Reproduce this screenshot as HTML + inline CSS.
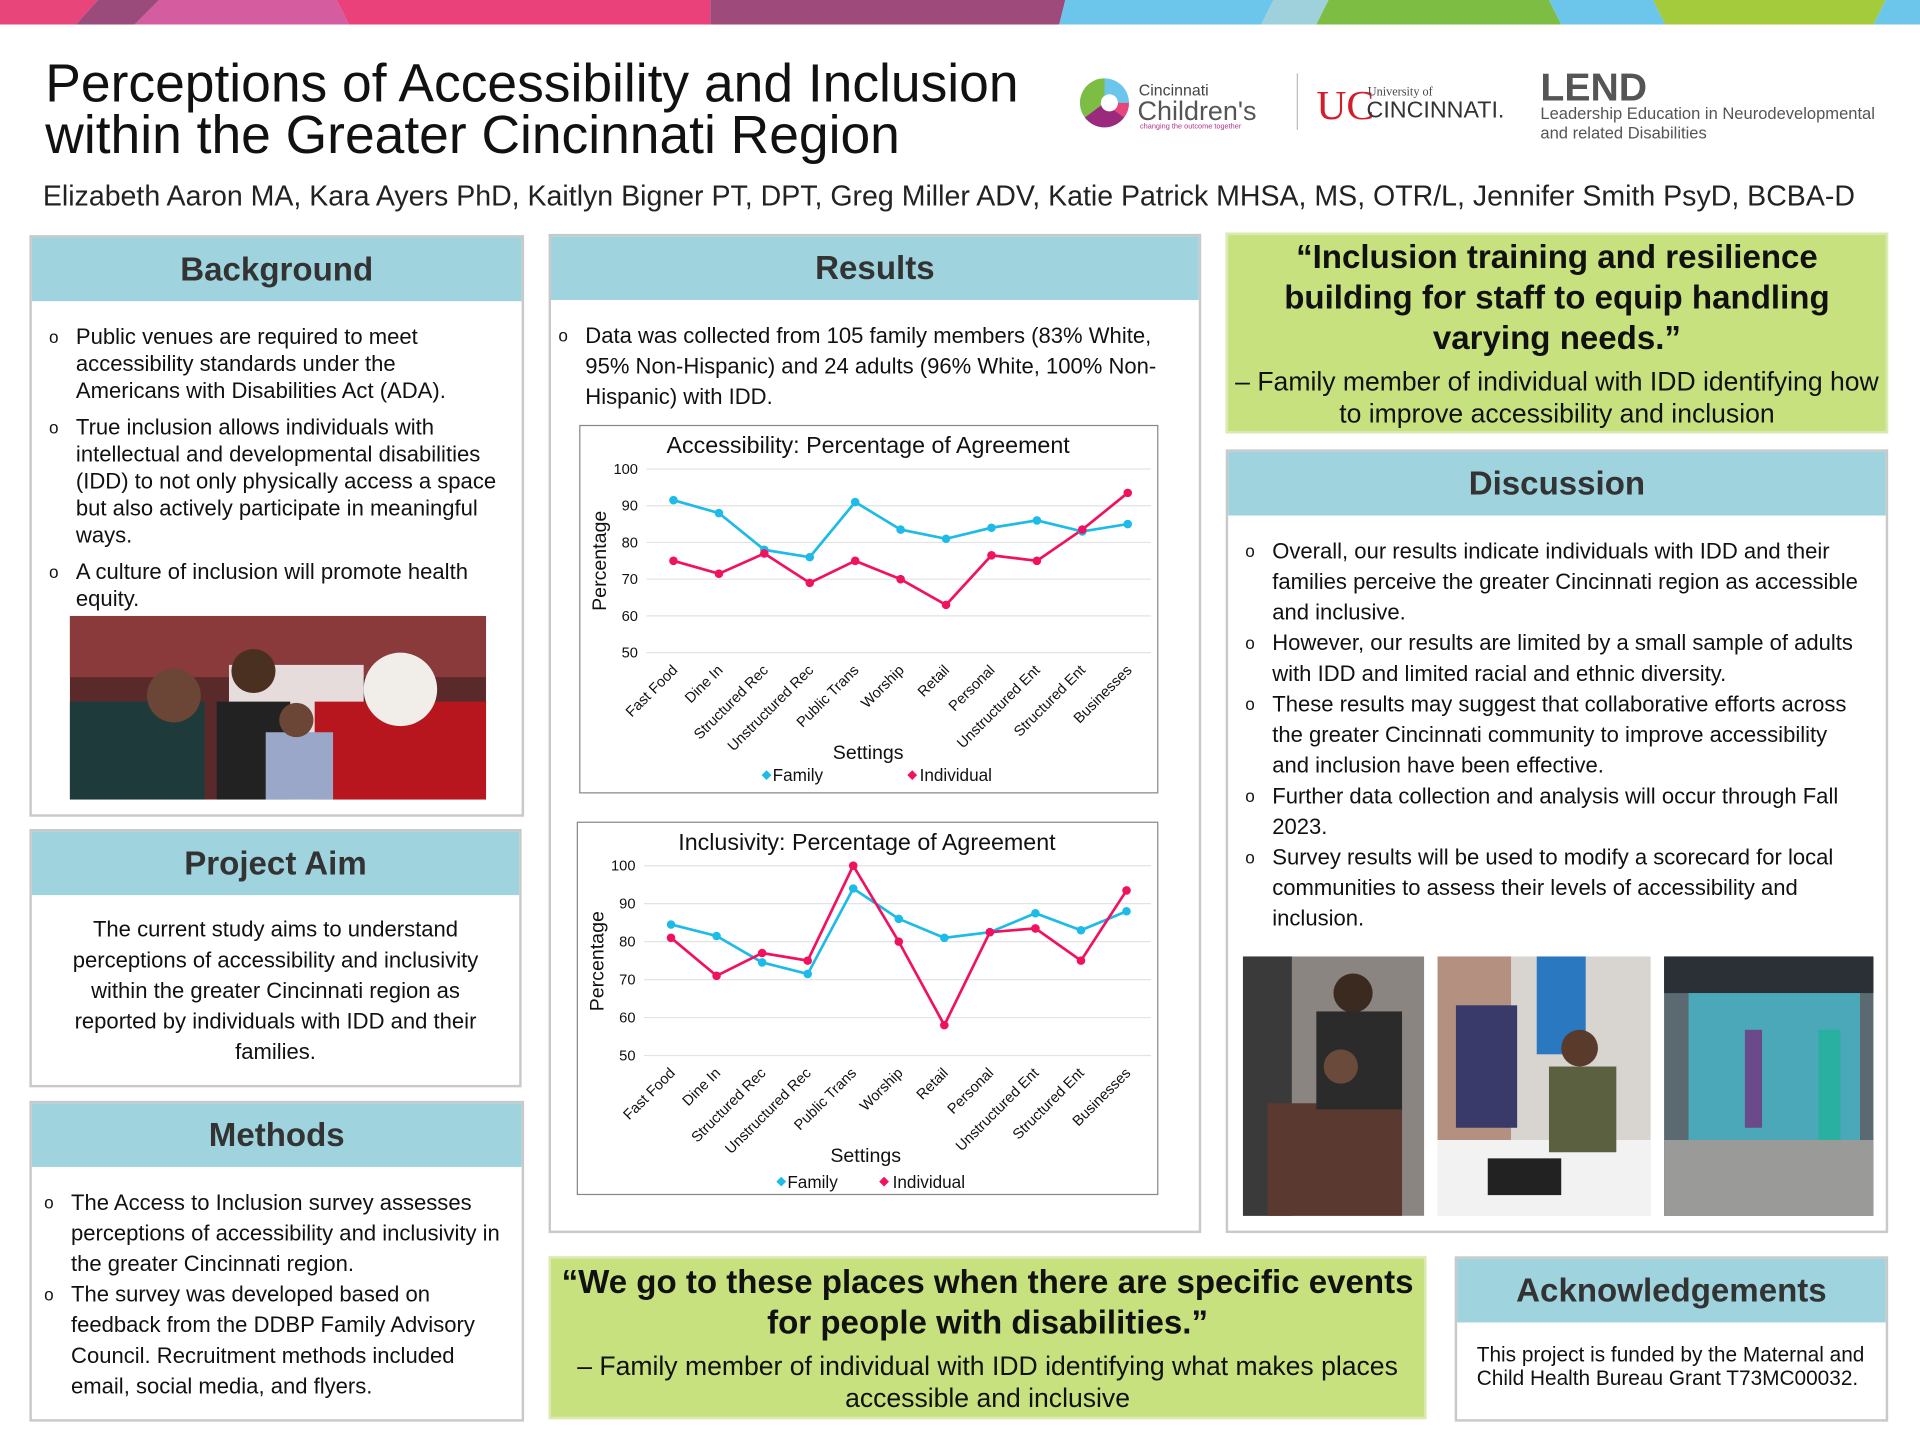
<!DOCTYPE html>
<html><head><meta charset="utf-8">
<style>
html,body{margin:0;padding:0;background:#fff;}
body{width:1920px;height:1440px;overflow:hidden;position:relative;font-family:"Liberation Sans",Arial,sans-serif;}
#w{position:absolute;left:0;top:0;width:1568px;height:1176px;transform:scale(1.22449);transform-origin:0 0;}
.a{position:absolute;}
.panel{position:absolute;border:2px solid #c9c9c9;background:#fff;box-sizing:border-box;}
.hd{background:#9fd4df;height:52px;display:flex;align-items:center;justify-content:center;font-weight:bold;font-size:27px;color:#333;}
ul{list-style:none;margin:0;padding:0;}
li{position:relative;padding-left:36px;font-size:18px;color:#111;}
li:before{content:"o";position:absolute;left:14px;top:0;font-size:14px;}
.q{position:absolute;background:#c8e17f;border:2px solid #d9ebb0;box-sizing:border-box;text-align:center;color:#111;}
.q b{display:block;font-size:27px;line-height:33px;}
.q span{display:block;font-size:21.7px;line-height:26px;}
</style></head><body>
<div id="w">
<svg class="a" style="left:0;top:0" width="1568" height="22">
<polygon points="0,0 80,0 62,20 0,20" fill="#e8457b"/>
<polygon points="80,0 130,0 110,20 62,20" fill="#9b4a7c"/>
<polygon points="130,0 275,0 285,20 110,20" fill="#d45c9f"/>
<polygon points="275,0 580,0 580,20 285,20" fill="#ea417a"/>
<polygon points="580,0 870,0 865,20 580,20" fill="#9e4a7b"/>
<polygon points="870,0 1040,0 1030,20 865,20" fill="#6cc5ea"/>
<polygon points="1040,0 1085,0 1075,20 1030,20" fill="#9fd1dc"/>
<polygon points="1085,0 1265,0 1275,20 1075,20" fill="#7dbd44"/>
<polygon points="1265,0 1350,0 1360,20 1275,20" fill="#6cc5ea"/>
<polygon points="1350,0 1540,0 1530,20 1360,20" fill="#a3cb3b"/>
<polygon points="1540,0 1568,0 1568,20 1530,20" fill="#6cc5ea"/>
</svg>
<div class="a" style="left:37px;top:48px;font-size:43.6px;line-height:42px;color:#111;">Perceptions of Accessibility and Inclusion<br>within the Greater Cincinnati Region</div>
<div class="a" style="left:35px;top:147px;font-size:23.3px;color:#222;white-space:nowrap;">Elizabeth Aaron MA, Kara Ayers PhD, Kaitlyn Bigner PT, DPT, Greg Miller ADV, Katie Patrick MHSA, MS, OTR/L, Jennifer Smith PsyD, BCBA-D</div>
<!-- logos -->
<svg class="a" style="left:878px;top:56px" width="50" height="52"><circle cx="24" cy="28" r="20" fill="#6cc5ea"/><path d="M24 8 A20 20 0 0 0 8 40 L24 28Z" fill="#7dbd44"/><path d="M8 40 A20 20 0 0 0 40 40 L24 28Z" fill="#9b2a7c"/><path d="M40 40 A20 20 0 0 0 44 28 L24 28Z" fill="#e8457b"/><circle cx="28" cy="28" r="7" fill="#fff"/></svg>
<div class="a" style="left:930px;top:66px;font-size:13px;color:#444;">Cincinnati</div>
<div class="a" style="left:929px;top:78px;font-size:22px;color:#555;">Children's</div>
<div class="a" style="left:931px;top:101px;font-size:6px;color:#b0328a;">changing the outcome together</div>
<div class="a" style="left:1059px;top:60px;width:1px;height:46px;background:#bbb;"></div>
<div class="a" style="left:1075px;top:68px;font-size:34px;color:#d21e2b;font-family:'Liberation Serif',serif;">UC</div>
<div class="a" style="left:1117px;top:70px;font-size:10px;color:#444;font-family:'Liberation Serif',serif;">University of</div>
<div class="a" style="left:1116px;top:80px;font-size:19px;color:#333;">CINCINNATI.</div>
<div class="a" style="left:1258px;top:53px;font-size:32px;font-weight:bold;color:#555;">LEND</div>
<div class="a" style="left:1258px;top:85px;font-size:13.5px;line-height:16px;color:#555;">Leadership Education in Neurodevelopmental<br>and related Disabilities</div>

<!-- Background -->
<div class="panel" style="left:24px;top:192px;width:404px;height:475px;">
<div class="hd">Background</div>
<ul style="margin-top:18px;padding-right:14px;">
<li style="line-height:22px;margin-bottom:8px;">Public venues are required to meet accessibility standards under the Americans with Disabilities Act (ADA).</li>
<li style="line-height:22px;margin-bottom:8px;">True inclusion allows individuals with intellectual and developmental disabilities (IDD) to not only physically access a space but also actively participate in meaningful ways.</li>
<li style="line-height:22px;">A culture of inclusion will promote health equity.</li>
</ul></div>
<svg class="a" style="left:57px;top:503px" width="340" height="150">
<rect width="340" height="150" fill="#5a2a2a"/>
<rect x="0" y="0" width="340" height="50" fill="#8a3a3a"/>
<rect x="130" y="40" width="110" height="70" fill="#e7dcdc"/>
<rect x="200" y="70" width="140" height="80" fill="#b8161e"/>
<circle cx="270" cy="60" r="30" fill="#f1eeea"/>
<rect x="0" y="70" width="110" height="80" fill="#1f3a3a"/>
<circle cx="85" cy="65" r="22" fill="#6b4535"/>
<circle cx="150" cy="45" r="18" fill="#4a3020"/>
<rect x="120" y="70" width="60" height="80" fill="#222"/>
<rect x="160" y="95" width="55" height="55" fill="#9aa7c8"/>
<circle cx="185" cy="85" r="14" fill="#6b4535"/>
</svg>

<!-- Project Aim -->
<div class="panel" style="left:24px;top:677px;width:402px;height:211px;">
<div class="hd">Project Aim</div>
<div style="text-align:center;font-size:18px;line-height:25px;padding:16px 24px 0;color:#111;">The current study aims to understand perceptions of accessibility and inclusivity within the greater Cincinnati region as reported by individuals with IDD and their families.</div>
</div>

<!-- Methods -->
<div class="panel" style="left:24px;top:899px;width:404px;height:262px;">
<div class="hd">Methods</div>
<ul style="margin-top:17px;padding-right:12px;">
<li style="line-height:25px;left:-4px;">The Access to Inclusion survey assesses perceptions of accessibility and inclusivity in the greater Cincinnati region.</li>
<li style="line-height:25px;left:-4px;padding-right:20px;">The survey was developed based on feedback from the DDBP Family Advisory Council. Recruitment methods included email, social media, and flyers.</li>
</ul></div>

<!-- Results -->
<div class="panel" style="left:448px;top:191px;width:533px;height:816px;">
<div class="hd">Results</div>
<ul style="margin-top:17px;padding-right:18px;">
<li style="line-height:25px;left:-8px;padding-left:36px;">Data was collected from 105 family members (83% White, 95% Non-Hispanic) and 24 adults (96% White, 100% Non-Hispanic) with IDD.</li>
</ul></div>

<svg class="a" style="left:0;top:0" width="1568" height="1176" font-family="Liberation Sans, Arial, sans-serif">
<!-- chart1 -->
<rect x="473.5" y="347.5" width="472" height="300" fill="#fff" stroke="#888"/>
<text x="709" y="370" font-size="19" text-anchor="middle" fill="#111">Accessibility: Percentage of Agreement</text>
<g stroke="#e3e3e3" stroke-width="1">
<line x1="528" x2="940" y1="383" y2="383"/><line x1="528" x2="940" y1="413" y2="413"/><line x1="528" x2="940" y1="443" y2="443"/><line x1="528" x2="940" y1="473" y2="473"/><line x1="528" x2="940" y1="503" y2="503"/><line x1="528" x2="940" y1="533" y2="533"/></g>
<g font-size="12" text-anchor="end" fill="#111">
<text x="521" y="387">100</text><text x="521" y="417">90</text><text x="521" y="447">80</text><text x="521" y="477">70</text><text x="521" y="507">60</text><text x="521" y="537">50</text></g>
<text transform="translate(495,458) rotate(-90)" font-size="16" text-anchor="middle" fill="#111">Percentage</text>
<g font-size="12" text-anchor="end" fill="#111">
<text transform="translate(554,548) rotate(-45)">Fast Food</text>
<text transform="translate(591,548) rotate(-45)">Dine In</text>
<text transform="translate(628,548) rotate(-45)">Structured Rec</text>
<text transform="translate(665,548) rotate(-45)">Unstructured Rec</text>
<text transform="translate(702,548) rotate(-45)">Public Trans</text>
<text transform="translate(739,548) rotate(-45)">Worship</text>
<text transform="translate(776,548) rotate(-45)">Retail</text>
<text transform="translate(813,548) rotate(-45)">Personal</text>
<text transform="translate(850,548) rotate(-45)">Unstructured Ent</text>
<text transform="translate(887,548) rotate(-45)">Structured Ent</text>
<text transform="translate(925,548) rotate(-45)">Businesses</text></g>
<text x="709" y="620" font-size="16" text-anchor="middle" fill="#111">Settings</text>
<polygon points="622,633 626,629 630,633 626,637" fill="#1ebbe8"/><text x="631" y="638" font-size="14" fill="#111">Family</text>
<polygon points="741,633 745,629 749,633 745,637" fill="#f0125e"/><text x="751" y="638" font-size="14" fill="#111">Individual</text>
<polyline fill="none" stroke="#1ebbe8" stroke-width="2.2" points="550,408.5 587.1,419 624.2,449 661.3,455 698.4,410 735.5,432.5 772.6,440 809.7,431 846.8,425 883.9,434 921,428"/>
<polyline fill="none" stroke="#f0125e" stroke-width="2.2" points="550,458 587.1,468.5 624.2,452 661.3,476 698.4,458 735.5,473 772.6,494 809.7,453.5 846.8,458 883.9,432.5 921,402.5"/>
<g fill="#1ebbe8"><circle cx="550" cy="408.5" r="3.5"/><circle cx="587.1" cy="419" r="3.5"/><circle cx="624.2" cy="449" r="3.5"/><circle cx="661.3" cy="455" r="3.5"/><circle cx="698.4" cy="410" r="3.5"/><circle cx="735.5" cy="432.5" r="3.5"/><circle cx="772.6" cy="440" r="3.5"/><circle cx="809.7" cy="431" r="3.5"/><circle cx="846.8" cy="425" r="3.5"/><circle cx="883.9" cy="434" r="3.5"/><circle cx="921" cy="428" r="3.5"/></g>
<g fill="#f0125e"><circle cx="550" cy="458" r="3.5"/><circle cx="587.1" cy="468.5" r="3.5"/><circle cx="624.2" cy="452" r="3.5"/><circle cx="661.3" cy="476" r="3.5"/><circle cx="698.4" cy="458" r="3.5"/><circle cx="735.5" cy="473" r="3.5"/><circle cx="772.6" cy="494" r="3.5"/><circle cx="809.7" cy="453.5" r="3.5"/><circle cx="846.8" cy="458" r="3.5"/><circle cx="883.9" cy="432.5" r="3.5"/><circle cx="921" cy="402.5" r="3.5"/></g>

<!-- chart2 -->
<rect x="471.5" y="671.5" width="474" height="304" fill="#fff" stroke="#888"/>
<text x="708" y="694" font-size="19" text-anchor="middle" fill="#111">Inclusivity: Percentage of Agreement</text>
<g stroke="#e3e3e3" stroke-width="1">
<line x1="526" x2="940" y1="707" y2="707"/><line x1="526" x2="940" y1="738" y2="738"/><line x1="526" x2="940" y1="769" y2="769"/><line x1="526" x2="940" y1="800" y2="800"/><line x1="526" x2="940" y1="831" y2="831"/><line x1="526" x2="940" y1="862" y2="862"/></g>
<g font-size="12" text-anchor="end" fill="#111">
<text x="519" y="711">100</text><text x="519" y="742">90</text><text x="519" y="773">80</text><text x="519" y="804">70</text><text x="519" y="835">60</text><text x="519" y="866">50</text></g>
<text transform="translate(493,785) rotate(-90)" font-size="16" text-anchor="middle" fill="#111">Percentage</text>
<g font-size="12" text-anchor="end" fill="#111">
<text transform="translate(552,877) rotate(-45)">Fast Food</text>
<text transform="translate(589,877) rotate(-45)">Dine In</text>
<text transform="translate(626,877) rotate(-45)">Structured Rec</text>
<text transform="translate(663,877) rotate(-45)">Unstructured Rec</text>
<text transform="translate(700,877) rotate(-45)">Public Trans</text>
<text transform="translate(738,877) rotate(-45)">Worship</text>
<text transform="translate(775,877) rotate(-45)">Retail</text>
<text transform="translate(812,877) rotate(-45)">Personal</text>
<text transform="translate(849,877) rotate(-45)">Unstructured Ent</text>
<text transform="translate(886,877) rotate(-45)">Structured Ent</text>
<text transform="translate(924,877) rotate(-45)">Businesses</text></g>
<text x="707" y="949" font-size="16" text-anchor="middle" fill="#111">Settings</text>
<polygon points="634,965 638,961 642,965 638,969" fill="#1ebbe8"/><text x="643" y="970" font-size="14" fill="#111">Family</text>
<polygon points="718,965 722,961 726,965 722,969" fill="#f0125e"/><text x="729" y="970" font-size="14" fill="#111">Individual</text>
<polyline fill="none" stroke="#1ebbe8" stroke-width="2.2" points="548,755 585.2,764.4 622.4,786 659.6,795.4 696.8,725.6 734,750.4 771.2,765.9 808.4,761.3 845.6,745.8 882.8,759.7 920,744.2"/>
<polyline fill="none" stroke="#f0125e" stroke-width="2.2" points="548,765.9 585.2,796.9 622.4,778.3 659.6,784.5 696.8,707 734,769 771.2,837.2 808.4,761.3 845.6,758.2 882.8,784.5 920,727.2"/>
<g fill="#1ebbe8"><circle cx="548" cy="755" r="3.5"/><circle cx="585.2" cy="764.4" r="3.5"/><circle cx="622.4" cy="786" r="3.5"/><circle cx="659.6" cy="795.4" r="3.5"/><circle cx="696.8" cy="725.6" r="3.5"/><circle cx="734" cy="750.4" r="3.5"/><circle cx="771.2" cy="765.9" r="3.5"/><circle cx="808.4" cy="761.3" r="3.5"/><circle cx="845.6" cy="745.8" r="3.5"/><circle cx="882.8" cy="759.7" r="3.5"/><circle cx="920" cy="744.2" r="3.5"/></g>
<g fill="#f0125e"><circle cx="548" cy="765.9" r="3.5"/><circle cx="585.2" cy="796.9" r="3.5"/><circle cx="622.4" cy="778.3" r="3.5"/><circle cx="659.6" cy="784.5" r="3.5"/><circle cx="696.8" cy="707" r="3.5"/><circle cx="734" cy="769" r="3.5"/><circle cx="771.2" cy="837.2" r="3.5"/><circle cx="808.4" cy="761.3" r="3.5"/><circle cx="845.6" cy="758.2" r="3.5"/><circle cx="882.8" cy="784.5" r="3.5"/><circle cx="920" cy="727.2" r="3.5"/></g>
</svg>

<!-- Quote 1 -->
<div class="q" style="left:1001px;top:190px;width:541px;height:164px;padding-top:2px;">
<b style="padding:0 40px;">“Inclusion training and resilience building for staff to equip handling varying needs.”</b>
<span style="margin-top:6px;">– Family member of individual with IDD identifying how to improve accessibility and inclusion</span></div>

<!-- Discussion -->
<div class="panel" style="left:1001px;top:367px;width:541px;height:640px;">
<div class="hd">Discussion</div>
<ul style="margin-top:17px;padding-right:14px;">
<li style="line-height:25px;">Overall, our results indicate individuals with IDD and their families perceive the greater Cincinnati region as accessible and inclusive.</li>
<li style="line-height:25px;">However, our results are limited by a small sample of adults with IDD and limited racial and ethnic diversity.</li>
<li style="line-height:25px;">These results may suggest that collaborative efforts across the greater Cincinnati community to improve accessibility and inclusion have been effective.</li>
<li style="line-height:25px;">Further data collection and analysis will occur through Fall 2023.</li>
<li style="line-height:25px;">Survey results will be used to modify a scorecard for local communities to assess their levels of accessibility and inclusion.</li>
</ul></div>
<svg class="a" style="left:1015px;top:781px" width="515" height="212">
<rect x="0" y="0" width="148" height="212" fill="#8a8580"/>
<rect x="0" y="0" width="40" height="212" fill="#3a3a3a"/>
<rect x="20" y="120" width="110" height="92" fill="#5a3a30"/>
<circle cx="90" cy="30" r="16" fill="#3a2a20"/>
<rect x="60" y="45" width="70" height="80" fill="#2b2b2b"/>
<circle cx="80" cy="90" r="14" fill="#6a4a3a"/>
<rect x="159" y="0" width="174" height="212" fill="#d8d4d0"/>
<rect x="159" y="0" width="60" height="150" fill="#b49080"/>
<rect x="240" y="0" width="40" height="80" fill="#2a78c0"/>
<rect x="159" y="150" width="174" height="62" fill="#f2f2f2"/>
<rect x="200" y="165" width="60" height="30" fill="#222"/>
<rect x="250" y="90" width="55" height="70" fill="#5a6040"/>
<circle cx="275" cy="75" r="15" fill="#5a3a2a"/>
<rect x="174" y="40" width="50" height="100" fill="#3a3a6a"/>
<rect x="344" y="0" width="171" height="212" fill="#5a6a70"/>
<rect x="344" y="0" width="171" height="30" fill="#2a3035"/>
<rect x="364" y="30" width="140" height="120" fill="#4aa8b8"/>
<rect x="344" y="150" width="171" height="62" fill="#9a9a98"/>
<rect x="410" y="60" width="14" height="80" fill="#6a4a8a"/>
<rect x="470" y="60" width="18" height="90" fill="#2ab0a0"/>
</svg>

<!-- Quote 2 -->
<div class="q" style="left:448px;top:1026px;width:717px;height:133px;padding-top:3px;">
<b style="padding:0 4px;">“We go to these places when there are specific events for people with disabilities.”</b>
<span style="margin-top:6px;padding:0 14px;">– Family member of individual with IDD identifying what makes places accessible and inclusive</span></div>

<!-- Acknowledgements -->
<div class="panel" style="left:1188px;top:1026px;width:354px;height:135px;">
<div class="hd">Acknowledgements</div>
<div style="font-size:17px;line-height:19px;padding:17px 14px 0 16px;color:#111;">This project is funded by the Maternal and Child Health Bureau Grant T73MC00032.</div>
</div>
</div>
</body></html>
